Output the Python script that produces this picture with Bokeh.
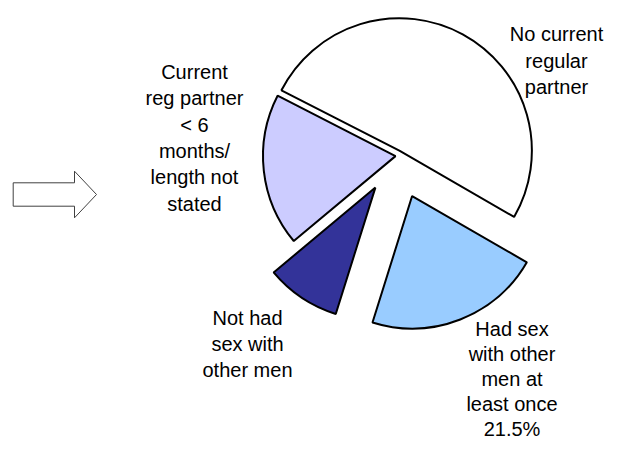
import math
from bokeh.plotting import figure
from bokeh.models import Range1d, ColumnDataSource
from bokeh.core.properties import value
from bokeh.embed import file_html
from bokeh.resources import INLINE

# ---- data ----
categories = [
    "No current regular partner",
    "Current reg partner < 6 months/ length not stated",
    "Not had sex with other men",
    "Had sex with other men at least once",
]
label_lines = [
    ["No current", "regular", "partner"],
    ["Current", "reg partner", "< 6", "months/", "length not", "stated"],
    ["Not had", "sex with", "other men"],
    ["Had sex", "with other", "men at", "least once", "21.5%"],
]
shares = [50.8, 18.6, 9.1, 21.5]

# ---- style ----
colors = ["#FFFFFF", "#CCCCFF", "#333399", "#99CCFF"]
explode = [6, 1, 38, 43]          # offsets of each slice (px)
start_deg = -30.0
center = (396.0, 155.5)           # px from top-left
radius = 132.5
label_anchor = [(556, 41.7), (194, 79.5), (247, 325.0), (511.5, 336.0)]
label_gap = [26.3, 26.3, 26.3, 25.0]
text_shift = 8.0                  # baseline correction of svg text
font = "Liberation Sans"
font_size = "20px"

W, H = 607, 441
p = figure(width=W, height=H, output_backend="svg", toolbar_location=None,
           x_range=Range1d(0, W), y_range=Range1d(-H, 0),
           x_axis_type=None, y_axis_type=None, min_border=0)
p.grid.visible = False
p.outline_line_color = None
p.background_fill_color = "white"
p.border_fill_color = "white"

total = sum(shares)
xs, ys, sa, ea = [], [], [], []
a = math.radians(start_deg)
for s, d in zip(shares, explode):
    span = 2 * math.pi * s / total
    mid = a + span / 2
    xs.append(center[0] + d * math.cos(mid))
    ys.append(-center[1] + d * math.sin(mid))
    sa.append(a)
    ea.append(a + span)
    a += span

src = ColumnDataSource(dict(x=xs, y=ys, start=sa, end=ea, color=colors, cat=categories))
p.wedge(x="x", y="y", radius=radius, start_angle="start", end_angle="end",
        fill_color="color", line_color="black", line_width=2, source=src)

# labels
tx, ty, tt = [], [], []
for (lx, ly), gap, lines in zip(label_anchor, label_gap, label_lines):
    for i, t in enumerate(lines):
        tx.append(lx)
        ty.append(-(ly + i * gap - text_shift))
        tt.append(t)
p.text(x=tx, y=ty, text=tt, text_font=value(font), text_font_size=font_size,
       text_align="center", text_baseline="alphabetic", text_color="black")

# block arrow (decoration)
ax0, ax1, amid = 12.7, 96.0, 194.0
shaft_half, head_half, head_len = 11.7, 23.3, 22.0
hx = ax1 - head_len
arrow_x = [ax0, hx, hx, ax1, hx, hx, ax0]
arrow_y = [-(amid - shaft_half), -(amid - shaft_half), -(amid - head_half), -amid,
           -(amid + head_half), -(amid + shaft_half), -(amid + shaft_half)]
p.patch(arrow_x, arrow_y, fill_color="white", line_color="#404040", line_width=1)

open("out.html", "w").write(file_html(p, INLINE))
